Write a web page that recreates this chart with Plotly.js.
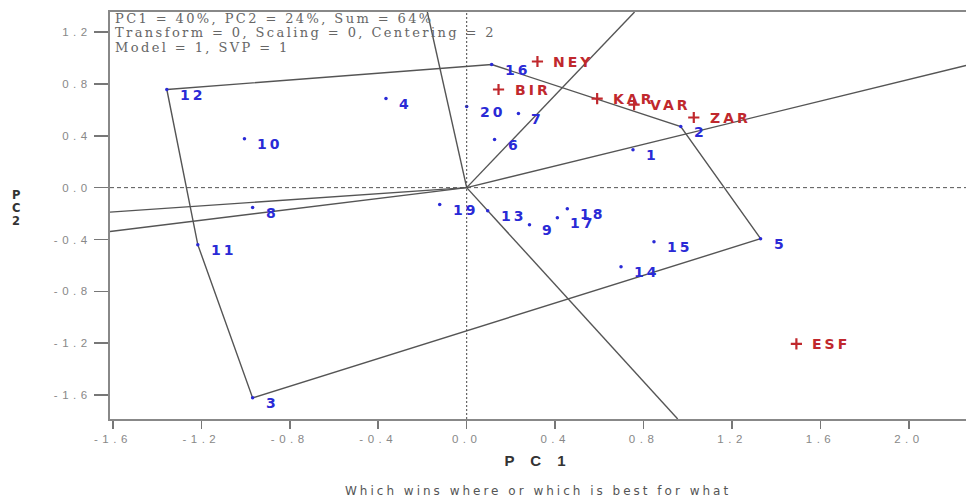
<!DOCTYPE html>
<html>
<head>
<meta charset="utf-8">
<script src="https://cdn.plot.ly/plotly-3.0.1.min.js"></script>
<style>
html,body{margin:0;padding:0;background:#fff;}
#chart{width:966px;height:499px;}
#chart .xtick text, #chart .ytick text{letter-spacing:4.5px;}
</style>
</head>
<body>
<div id="chart"></div>
<script>
// Genotypes
const genoNames = ['1','2','3','4','5','6','7','8','9','10','11','12','13','14','15','16','17','18','19','20'];
const genoPC1 = [0.752, 0.968, -0.968, -0.365, 1.329, 0.126, 0.234, -0.968, 0.284, -1.005, -1.216, -1.356, 0.095, 0.698, 0.847, 0.113, 0.410, 0.455, -0.122, 0.000];
const genoPC2 = [0.293, 0.471, -1.622, 0.687, -0.394, 0.371, 0.571, -0.154, -0.286, 0.378, -0.440, 0.757, -0.178, -0.610, -0.417, 0.950, -0.232, -0.162, -0.131, 0.625];
// Environments
const envNames = ['NEY','BIR','KAR','VAR','ZAR','ESF'];
const envPC1 = [0.320, 0.144, 0.590, 0.757, 1.027, 1.491];
const envPC2 = [0.973, 0.757, 0.687, 0.641, 0.541, -1.205];
// Polygon vertices (convex hull of genotypes)
const hullOrder = ['12','16','2','5','3','11','12'];
// Axis ticks
const xTicks = [-1.6,-1.2,-0.8,-0.4,0.0,0.4,0.8,1.2,1.6,2.0];
const xTickText = ['-1.6','-1.2','-0.8','-0.4','0.0','0.4','0.8','1.2','1.6','2.0'];
const yTicks = [-1.6,-1.2,-0.8,-0.4,0.0,0.4,0.8,1.2];
const yTickText = ['-1.6','-1.2','-0.8','-0.4','0.0','0.4','0.8','1.2'];
const xRange = [-1.613, 2.258];
const yRange = [-1.785, 1.355];
const infoLines = ['PC1 = 40%, PC2 = 24%, Sum = 64%','Transform = 0, Scaling = 0, Centering = 2','Model = 1, SVP = 1'];
const xTitle = 'P C 1';
const yTitleLetters = ['P','C','2'];
const subtitle = 'Which wins where or which is best for what';

const blue = '#2a2ad6';
const red = '#c0282d';
const sp = (t, ls) => '<span style="letter-spacing:' + ls + 'px">' + t + '</span>';

const hx = hullOrder.map(n => genoPC1[genoNames.indexOf(n)]);
const hy = hullOrder.map(n => genoPC2[genoNames.indexOf(n)]);

// rays perpendicular to each polygon side, from origin to plot border
function rayEnd(dx, dy) {
  let t = Infinity;
  if (dx > 0) t = Math.min(t, xRange[1] / dx);
  if (dx < 0) t = Math.min(t, xRange[0] / dx);
  if (dy > 0) t = Math.min(t, yRange[1] / dy);
  if (dy < 0) t = Math.min(t, yRange[0] / dy);
  return [dx * t, dy * t];
}
const rayX = [], rayY = [];
for (let i = 0; i < hx.length - 1; i++) {
  const ax = hx[i], ay = hy[i], bx = hx[i+1], by = hy[i+1];
  let nx = (by - ay), ny = -(bx - ax);
  const mx = (ax + bx) / 2, my = (ay + by) / 2;
  if (nx * mx + ny * my < 0) { nx = -nx; ny = -ny; }
  const e = rayEnd(nx, ny);
  rayX.push(0, e[0], null);
  rayY.push(0, e[1], null);
}

const traces = [
  {x: hx, y: hy, mode: 'lines', line: {color: '#555', width: 1.4}, hoverinfo: 'skip', showlegend: false},
  {x: rayX, y: rayY, mode: 'lines', line: {color: '#555', width: 1.4}, hoverinfo: 'skip', showlegend: false},
  {x: genoPC1, y: genoPC2, mode: 'markers', marker: {color: blue, size: 3.5}, text: genoNames, showlegend: false},
  {x: envPC1, y: envPC2, mode: 'markers', marker: {color: red, size: 8, symbol: 'cross-thin', line: {color: red, width: 2.2}}, text: envNames, showlegend: false}
];

const labFont = c => ({family: 'DejaVu Sans, Arial', size: 14, color: c, weight: 'bold'});
const annotations = [];
genoNames.forEach((n, i) => annotations.push({x: genoPC1[i], y: genoPC2[i], xref: 'x', yref: 'y', text: sp(n, 3), showarrow: false, xanchor: 'left', yanchor: 'middle', xshift: 11, yshift: -5, font: labFont(blue)}));
envNames.forEach((n, i) => annotations.push({x: envPC1[i], y: envPC2[i], xref: 'x', yref: 'y', text: sp(n, 3), showarrow: false, xanchor: 'left', yanchor: 'middle', xshift: 14, yshift: 0, font: labFont(red)}));
infoLines.forEach((t, i) => annotations.push({x: 0, y: 1, xref: 'paper', yref: 'paper', xanchor: 'left', yanchor: 'middle', xshift: 3, yshift: -6 - i * 14.5, align: 'left', showarrow: false, text: sp(t, 2.4), font: {family: 'DejaVu Serif, Liberation Serif, serif', size: 13, color: '#666'}}));
yTitleLetters.forEach((t, i) => annotations.push({x: 0, y: 0, xref: 'paper', yref: 'paper', xanchor: 'center', yanchor: 'middle', xshift: -94, yshift: 224 - i * 13, showarrow: false, borderpad: 0, text: t, font: {family: 'DejaVu Sans, Arial', size: 11.5, color: '#333', weight: 'bold'}}));
annotations.push({x: 0.5, y: 0, xref: 'paper', yref: 'paper', xanchor: 'center', yanchor: 'middle', yshift: -72, showarrow: false, text: sp(subtitle, 3), font: {family: 'DejaVu Sans, Arial', size: 12, color: '#555'}});

const axisCommon = {ticks: 'outside', tickcolor: '#777', tickwidth: 1.5, showgrid: false, zeroline: false,
  showline: true, linecolor: '#888', linewidth: 2, mirror: true,
  tickfont: {family: 'Arial, Liberation Sans', size: 11.5, color: '#888'}};

const layout = {
  width: 966, height: 499,
  margin: {l: 110, r: 0, t: 12, b: 80},
  paper_bgcolor: '#fff', plot_bgcolor: '#fff',
  showlegend: false,
  xaxis: Object.assign({}, axisCommon, {range: xRange, tickvals: xTicks, ticktext: xTickText, ticklen: 8,
          title: {text: sp(xTitle, 6), standoff: 12, font: {family: 'Arial, Liberation Sans', size: 15, color: '#333', weight: 'bold'}}}),
  yaxis: Object.assign({}, axisCommon, {range: yRange, tickvals: yTicks, ticktext: yTickText, ticklen: 14}),
  shapes: [
    {type: 'line', xref: 'paper', yref: 'y', x0: 0, x1: 1, y0: 0, y1: 0, line: {color: '#555', width: 1, dash: '4px,3px'}},
    {type: 'line', xref: 'x', yref: 'paper', x0: 0, x1: 0, y0: 0, y1: 1, line: {color: '#444', width: 1, dash: '2px,2px'}}
  ],
  annotations: annotations
};

Plotly.newPlot('chart', traces, layout, {displayModeBar: false, staticPlot: true});
</script>
</body>
</html>
